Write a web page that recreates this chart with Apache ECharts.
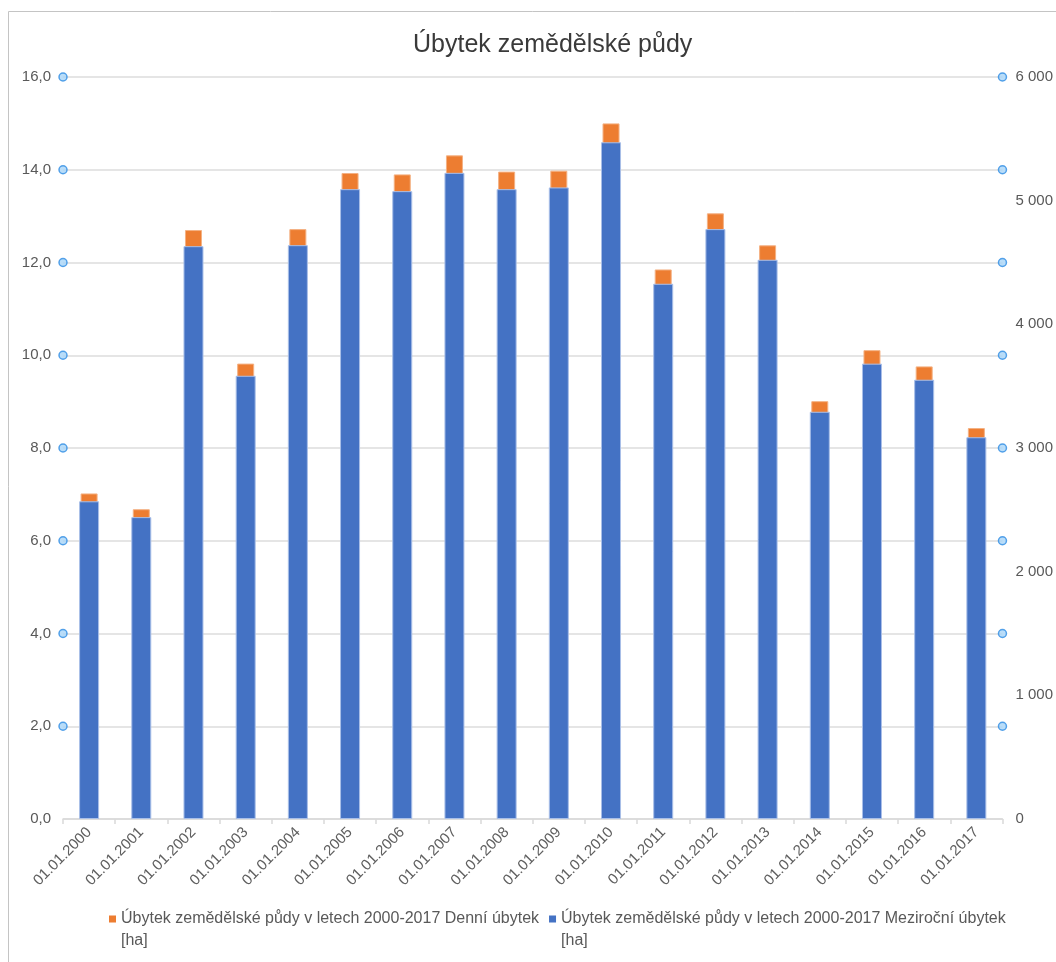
<!DOCTYPE html>
<html>
<head>
<meta charset="utf-8">
<script src="https://cdn.jsdelivr.net/npm/echarts@6/dist/echarts.min.js"></script>
<style>
html,body{margin:0;padding:0;background:#fff;}
#chart{width:1056px;height:962px;}
</style>
</head>
<body>
<div id="chart"></div>
<script>
const categories = ['01.01.2000','01.01.2001','01.01.2002','01.01.2003','01.01.2004','01.01.2005','01.01.2006','01.01.2007','01.01.2008','01.01.2009','01.01.2010','01.01.2011','01.01.2012','01.01.2013','01.01.2014','01.01.2015','01.01.2016','01.01.2017'];
// Denní úbytek [ha] (left axis)
const dailyLoss = [7.02, 6.68, 12.70, 9.82, 12.72, 13.93, 13.90, 14.31, 13.96, 13.98, 15.00, 11.85, 13.06, 12.37, 9.01, 10.11, 9.76, 8.43];
// Meziroční úbytek [ha] (right axis)
const yearlyLoss = [2569, 2441, 4632, 3584, 4640, 5093, 5077, 5225, 5093, 5107, 5472, 4328, 4770, 4522, 3293, 3682, 3552, 3087];
// gridline handle positions (left axis tick values)
const handleTicks = [2, 4, 6, 8, 10, 12, 14, 16];

const nameDaily = 'Úbytek zemědělské půdy v letech 2000-2017 Denní úbytek\n[ha]';
const nameYearly = 'Úbytek zemědělské půdy v letech 2000-2017 Meziroční úbytek\n[ha]';
const FONT = '"Liberation Sans", Arial, sans-serif';
const legendIcon = 'path://M0,0L7,0L7,7L0,7Z M0,29L7,29';

const handleData = [];
handleTicks.forEach(t => { handleData.push([0, t]); handleData.push([1, t]); });

const chart = echarts.init(document.getElementById('chart'), null, {renderer: 'canvas'});
chart.setOption({
  animation: false,
  backgroundColor: '#fff',
  textStyle: {fontFamily: FONT},
  title: {
    text: 'Úbytek zemědělské půdy',
    left: 408,
    top: 28,
    textStyle: {fontFamily: FONT, fontSize: 25, fontWeight: 'normal', color: '#3a3a3a'}
  },
  legend: {
    left: 109,
    top: 908,
    padding: 0,
    itemGap: 10,
    itemWidth: 7,
    itemHeight: 29,
    data: [
      {name: nameDaily, icon: legendIcon},
      {name: nameYearly, icon: legendIcon}
    ],
    itemStyle: {borderWidth: 0},
    textStyle: {fontFamily: FONT, fontSize: 16, lineHeight: 22, color: '#595959'}
  },
  grid: {left: 63, right: 53, top: 77, bottom: 143, containLabel: false},
  xAxis: [
    {
      type: 'category',
      data: categories,
      axisLine: {lineStyle: {color: '#d9d9d9', width: 1.5}},
      axisTick: {show: true, alignWithLabel: false, length: 5, lineStyle: {color: '#d9d9d9', width: 1.5}},
      axisLabel: {rotate: 45, margin: 11, fontSize: 15, color: '#5f5f5f', fontFamily: FONT, interval: 0},
      splitLine: {show: false}
    },
    {
      type: 'category',
      data: categories,
      show: false
    },
    {
      type: 'value',
      min: 0,
      max: 1,
      show: false
    }
  ],
  yAxis: [
    {
      type: 'value',
      min: 0,
      max: 16,
      interval: 2,
      axisLine: {show: false},
      axisTick: {show: false},
      axisLabel: {margin: 12, fontSize: 15, color: '#595959', fontFamily: FONT,
        formatter: v => v.toFixed(1).replace('.', ',')},
      splitLine: {lineStyle: {color: '#dcdcdc', width: 1.5}}
    },
    {
      type: 'value',
      min: 0,
      max: 6000,
      interval: 1000,
      position: 'right',
      axisLine: {show: false},
      axisTick: {show: false},
      axisLabel: {margin: 13, fontSize: 15, color: '#595959', fontFamily: FONT,
        formatter: v => String(v).replace(/\B(?=(\d{3})+(?!\d))/g, ' ')},
      splitLine: {show: false}
    }
  ],
  series: [
    {
      name: nameDaily,
      type: 'bar',
      xAxisIndex: 0,
      yAxisIndex: 0,
      barWidth: 17,
      data: dailyLoss,
      itemStyle: {color: '#ED7D31', borderColor: '#f4b183', borderWidth: 1}
    },
    {
      name: nameYearly,
      type: 'bar',
      xAxisIndex: 1,
      yAxisIndex: 1,
      barWidth: 20,
      data: yearlyLoss,
      itemStyle: {color: '#4472C4', borderColor: '#a9bfe8', borderWidth: 1}
    },
    {
      name: 'handles',
      type: 'scatter',
      xAxisIndex: 2,
      yAxisIndex: 0,
      data: handleData,
      symbol: 'circle',
      symbolSize: 8,
      clip: false,
      silent: true,
      z: 10,
      itemStyle: {color: '#a8d4f7', borderColor: '#2e8ce4', borderWidth: 1.5}
    }
  ],
  graphic: [
    {
      type: 'polyline',
      silent: true,
      shape: {points: [[8.5, 962], [8.5, 11.5], [1056, 11.5]]},
      style: {stroke: '#c4c4c4', lineWidth: 1, fill: null}
    }
  ]
});
</script>
</body>
</html>
